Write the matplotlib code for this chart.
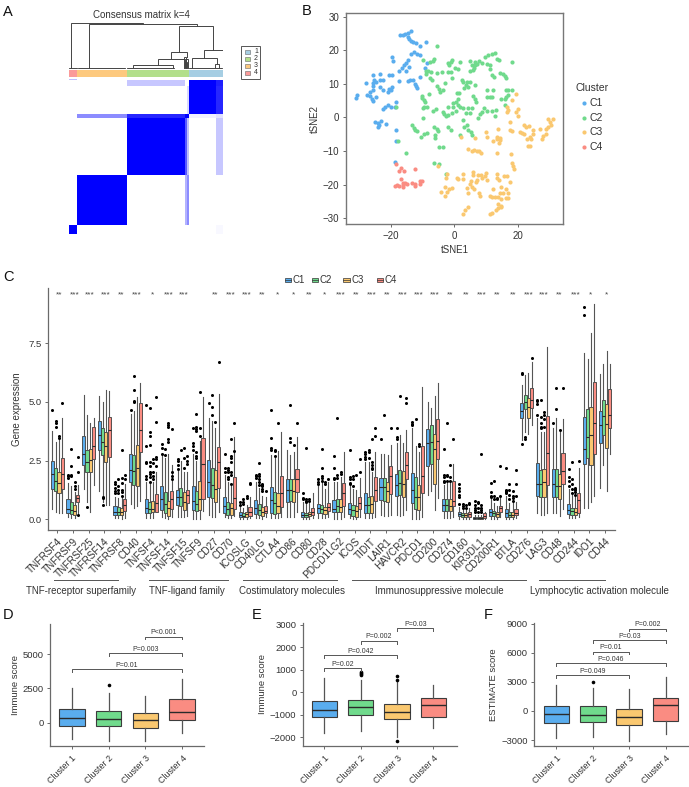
import numpy as np
import matplotlib
matplotlib.use('Agg')
import matplotlib.pyplot as plt
from matplotlib.patches import Rectangle
from matplotlib.colors import LinearSegmentedColormap

plt.rcParams['font.family'] = ['Liberation Sans', 'DejaVu Sans']
plt.rcParams['axes.unicode_minus'] = True

W, H = 689, 787
TXT = '#333333'
AX = '#6a6a6a'
COL = ['#5AADEE', '#70DA8C', '#FAC870', '#FA8C82']

# ---------- Panel A data
consensus_title = 'Consensus matrix k=4'
col_sizes = [25, 150, 175, 4, 8, 80, 20]
row_sizes = [5, 18, 82, 13, 172, 150, 25]
consensus = [
    [0.25, 0.00, 0.00, 0.00, 0.00, 0.00, 0.00],
    [0.00, 0.00, 0.22, 0.00, 0.00, 1.00, 0.88],
    [0.00, 0.00, 0.00, 0.00, 0.15, 1.00, 0.85],
    [0.00, 0.45, 0.85, 1.00, 1.00, 0.06, 0.12],
    [0.00, 0.00, 1.00, 0.65, 0.25, 0.00, 0.22],
    [0.00, 1.00, 0.00, 0.30, 0.45, 0.00, 0.00],
    [1.00, 0.00, 0.00, 0.00, 0.00, 0.00, 0.03],
]
anno_sizes = [25, 150, 187, 100]
anno_colors = ['#FB9A99', '#FDC97E', '#B2DF8A', '#A6CEE3']
anno_legend = ['1', '2', '3', '4']
anno_legend_colors = ['#A6CEE3', '#B2DF8A', '#FDC97E', '#FB9A99']
# x_left, x_right, height, left end, right end
dendro = [
    (8, 224, 135, 2, 132), (62, 384, 132, 3, 127), (331, 434, 127, 50, 57),
    (308, 354, 50, 30, 35), (407, 462, 57, 32, 3), (269, 350, 30, 12, 5),
    (194, 314, 12, 6, 3), (371, 444, 32, 3, 15), (438, 452, 15, 2, 2),
    (345, 352, 35, 4, 4), (352, 358, 30, 3, 3), (348, 356, 22, 2, 2),
    (0, 25, 3, 0, 0), (28, 170, 3, 0, 0), (175, 315, 4, 0, 0), (362, 460, 2, 0, 0),
]

# ---------- Panel B data
c1_x = [-17.2,-16.3,-15.6,-14.8,-13.7,-14.8,-14.2,-13.8,-13.2,-12.1,-11,-8.9,-12.7,-13.7,-11.9,-11,-19.7,-19.5,-14.8,-15.4,-15.8,-16.6,-17.4,-14.5,-15.4,-9.3,-8.6,-17.6,-14.7,-14,-13.2,-12.6,-12.1,-11.9,-10.8,-25.8,-23.5,-20.6,-19.8,-28.1,-25.3,-24.7,-23.6,-22.7,-25.8,-25.6,-23.5,-22.7,-21.1,-20.6,-19.7,-20.1,-26.6,-25.8,-27.7,-26.8,-24.7,-26.1,-25.6,-31.1,-30.8,-18.6,-22.6,-22.1,-21.1,-20,-18.9,-25.1,-24.3,-23.1,-23.7,-24.3,-21.6,-18.4,-18.4,-18.7]
c1_y = [24.5,24.4,24.7,25,25.8,24,23.5,22.8,22.5,22.2,21.3,22.6,19.5,19,19,18.5,17.9,16.7,17,16.3,15.5,14.6,13.8,14.9,13.9,14.7,16.3,11,10.8,11.3,11.1,10.1,9.3,8.8,11.9,12.7,12.9,12.7,12.6,10.3,11.3,10.6,11.1,11.1,9.5,10.3,9.1,8.1,7.5,8.6,9.1,8.3,7.6,8.3,6.6,6.3,6,5.4,4.9,5.7,6.8,4.6,2.4,3,3.7,3.2,3.1,-1.4,-1.5,-1,-2.1,-2.9,-1.8,-3.6,-7.1,-13.2]
c2_x = [-5.6,-10,-6.8,-6.4,-7.6,-1.9,-1.2,-.6,-1.8,1.9,5.1,7.9,6.5,5.5,6.5,7.2,6.2,4.9,5.8,8.9,9.7,10.7,11.8,12.9,13.4,14.2,18.1,10.2,11.3,11.3,11.9,12.5,14.6,15.5,16.1,16.3,-8.9,-8.2,-7.4,-8.9,-7.6,-7.2,-5.6,-4,-1.9,-1.2,.2,1.1,-.7,2.3,2.8,3.9,4.9,3.6,4.4,6.7,3.1,-5.6,-4.8,-4.4,-3.5,-2.9,.7,1.6,10.2,12.1,-10.3,-10.3,-9.5,-9.3,-7.9,6,6.5,6.8,10.2,11.3,11.9,16.3,17,18.1,17,16.5,14.9,16,16,-9.8,-8.7,-9.5,-6.8,-5.9,-1.9,-.3,-.3,.4,1.3,1.3,1.8,2.8,4.2,5.5,-3.5,-3.3,-2.6,-1.9,-.8,.5,3.7,4.9,7.4,8.1,8.9,9.5,10.4,12,13.2,12.8,-10,2.6,3.9,3.2,4.4,5.4,5.5,1.8,-13.5,-12.9,-12.4,-11.9,-10.6,-9.6,-8.7,-6.3,-5.6,-5.1,-6.1,-6.1,-1.9,-1.2,-4.7,-3.7,-17.7,-15.4,-6.3,-4.7,-2.6,-18.4]
c2_y = [21.2,17.1,16.9,17.4,16.5,16.1,16.5,17.1,15.5,16.4,16.9,16.9,16.5,15.6,15.6,16,14.6,13.9,14.2,16.1,18.1,18.5,18.8,19.1,17.5,17,16.5,15.9,15.5,14.3,12.6,12.1,13.3,12.9,12.3,11.7,13.7,13.9,13.6,12.9,11.6,11.3,13.3,13.6,13.6,13.5,14.6,14.3,11.7,11.3,10.6,10.6,10.6,9.7,9.1,9.8,8.9,9.3,8.6,7.6,8.1,10.3,7.4,7.3,8.1,8.3,6.4,5.7,5.2,4.6,6.9,6.3,5.5,4.6,6.2,6.1,6.1,8.3,8.1,8.3,6.6,6,5.6,5.5,3.7,2.7,3.2,3,2,2.4,3.2,3.2,4.2,4.7,5.4,3.7,3,2.7,2.9,2.9,1.7,1,.4,.7,1.2,1.9,1.2,1.2,-.2,1,1.7,2.9,2,1.9,2.2,.5,-.3,-.8,-2.3,-2.8,-3.6,-4.3,-5.3,-5.3,-2.3,-3,-3.6,-4.1,-5.9,-5,-4.5,-2.9,-3.3,-4,-5.3,-6,-2.8,-3.6,-8.8,-8.8,-7.1,-10.6,-13.5,-13.9,-16.9,3]
c3_x = [19.4,18.1,16.7,17,16.7,20.2,19.5,20.2,17.6,17.6,18.4,13.9,9.9,10.2,6.5,2.1,13.4,12.2,13.4,14.6,14.2,14.6,20.7,21.5,22.2,22.6,23.5,22.1,24.9,24.9,24.1,23,24.3,23.4,24.1,27.1,29,29.5,29.7,30.2,31.2,30.7,29,28.2,27.6,4.2,5.5,6.2,7.1,7.9,8.5,13.4,17.9,18.4,18.6,18.8,-5.3,-2.2,-2.6,.7,2.6,2.6,1.3,-2.9,-4.3,-.8,-1.6,-2.2,-2.8,5.8,6,7.6,8.6,10,9.7,10.4,8.9,6.8,7.3,5.3,4.9,5.5,3.9,4.4,6.3,7.8,8.2,13.4,13.6,12.2,12,11.3,13,13.9,14.4,15.3,14.7,16.5,17,17,16.3,14.9,15.8,16.7,17.6,14.2,4.4,3.4,2.6,11.3,11.9,13.2,13.9,14.7,13.9,14.9]
c3_y = [7.1,5.2,3.2,2.2,1.6,2.4,1.7,.4,-1.3,-3.6,-4.1,-3.3,-4.3,-5.9,-6,-5.8,-5.8,-6.9,-6.5,-6.7,-7.7,-6,-4.3,-4.6,-2.3,-2.8,-2.6,-4.8,-3.8,-4.8,-5.8,-6.4,-6.3,-8.5,-8.5,-3.3,-3.3,-2.8,-.6,-1.3,-.6,-2.3,-5,-5.6,-6.3,-9.5,-9.9,-9.7,-9.9,-9.9,-10.5,-10.5,-11,-13.5,-14.4,-15.4,-14.5,-16.7,-17.9,-17.9,-16.9,-18.2,-18.2,-20.6,-22.1,-20.9,-21.4,-22.1,-23.3,-16.2,-17.2,-17,-17.2,-16.5,-17.5,-18.7,-17.9,-19.1,-18.5,-18.9,-19.9,-20.6,-20.9,-22.6,-21.4,-22.6,-23.3,-16.9,-18,-21.4,-23.6,-23.4,-23.8,-23.6,-22.6,-22.4,-20.6,-21.4,-22.4,-23.9,-24.1,-24.3,-17.4,-17.4,-19.1,-18.7,-26.6,-27.4,-28.6,-28.8,-28.4,-27.4,-26.8,-26.3,-25.6,-26.6]
c4_x = [-18.6,-16.9,-17.4,-16,-12.4,-16.9,-18.7,-18,-17.4,-16.3,-16.1,-15.6,-15.1,-16.1,-13.4,-12.6,-12.4,-11,-10.8,-10.1]
c4_y = [-13.7,-15,-15.8,-15.8,-15.2,-18.4,-20.3,-20.2,-20.4,-19.4,-20.1,-19.6,-19.9,-20.6,-19.6,-20.4,-19.8,-19.8,-18.9,-18.9]
clusters = ['C1', 'C2', 'C3', 'C4']

# ---------- Panel C data
genes = ['TNFRSF4','TNFRSF9','TNFRSF25','TNFRSF14','TNFRSF8','CD40','TNFSF4','TNFSF14','TNFSF15','TNFSF9','CD27','CD70','ICOSLG','CD40LG','CTLA4','CD86','CD80','CD28','PDCD1LG2','ICOS','TIDIT','LAIR1','HAVCR2','PDCD1','CD200','CD274','CD160','KIR3DL1','CD200R1','BTLA','CD276','LAG3','CD48','CD244','IDO1','CD44']
stars = ['**','***','***','***','**','***','*','***','***','','**','***','***','**','*','*','**','*','***','**','***','**','***','***','***','**','**','***','**','**','***','***','**','***','*','*']
# each row: low whisker, q1, median, q3, high whisker
box_c1 = [(.45,1.28,1.92,2.5,3.76),(.08,.27,.42,.85,1.55),(1.3,2.3,2.8,3.56,5.3),(1.2,2.93,3.6,4.2,5.27),(.05,.2,.33,.55,.95),(.65,1.6,2.12,2.8,4.5),(.05,.28,.5,.85,1.6),(.08,.38,.85,1.4,2.75),(.08,.62,.95,1.25,2.1),(.03,.38,.8,1.4,2.8),(.2,.95,1.58,2.52,4.3),(.08,.25,.55,.97,1.9),(.03,.08,.18,.3,.54),(.05,.23,.47,.82,1.6),(.05,.26,.82,1.36,2.75),(.1,.75,1.25,1.7,2.95),(.03,.11,.18,.3,.75),(.05,.26,.47,.64,1.46),(.03,.3,.44,.82,1.6),(.05,.23,.43,.68,1.4),(.05,.28,.6,1.14,2.45),(.2,.82,1.36,1.75,2.8),(.2,1.0,1.46,1.95,3.24),(0,.68,1.25,1.96,3.88),(1.04,2.29,3.24,3.85,5.0),(.05,.37,.6,.85,1.46),(.03,.14,.21,.3,.54),(.01,.03,.05,.08,.2),(.03,.16,.3,.43,.9),(.03,.11,.26,.44,1.0),(3.38,4.3,4.63,4.97,5.72),(.28,.98,1.52,2.38,4.3),(.28,.97,1.5,2.16,3.88),(.05,.24,.4,.64,1.3),(.47,2.34,3.0,4.35,7.07),(1.35,3.27,4.02,4.62,6.18)]
box_c2 = [(.33,1.2,1.63,2.17,3.3),(.05,.22,.38,.75,1.4),(.75,2.03,2.43,2.95,4.45),(.75,2.75,3.3,3.88,5.0),(.05,.18,.33,.53,.9),(.5,1.45,2.05,2.75,4.6),(.05,.28,.42,.72,1.5),(.05,.28,.65,1.15,2.6),(.1,.55,.95,1.35,2.5),(.03,.35,.65,1.2,2.5),(.08,.9,1.45,2.2,4.2),(.05,.2,.45,.75,1.6),(.03,.08,.16,.28,.5),(.05,.18,.4,.64,1.35),(.05,.21,.68,1.18,2.6),(.1,.78,1.25,1.7,2.75),(.03,.11,.18,.28,.65),(.05,.26,.44,.6,1.6),(.03,.3,.58,.85,1.6),(.03,.16,.4,.6,1.3),(.05,.28,.6,.97,2.45),(.15,.78,1.36,1.75,2.77),(.15,1.04,1.53,2.1,3.6),(0,.43,.94,1.82,3.1),(1.2,2.36,3.31,4.0,4.76),(.05,.35,.6,.85,1.6),(.03,.11,.18,.26,.4),(.01,.03,.05,.08,.2),(.03,.14,.26,.37,.7),(.03,.11,.18,.33,.7),(3.73,4.7,5.0,5.3,6.15),(.18,.97,1.52,2.09,3.7),(.25,.94,1.43,2.13,4.3),(.05,.18,.37,.5,1.04),(.5,2.6,3.5,4.69,6.83),(2.3,3.6,4.39,5.06,6.63)]
box_c3 = [(.25,1.13,1.53,2.03,3.4),(.05,.18,.35,.6,1.15),(.33,2.0,2.53,2.98,4.1),(.6,2.43,3.1,3.7,5.5),(.03,.17,.3,.5,.95),(.55,1.4,2.2,3.15,5.2),(.05,.3,.45,.78,1.6),(.03,.15,.47,.78,2.8),(.08,.4,.75,1.15,2.0),(.03,.4,.85,1.65,3.35),(.08,.75,1.3,2.1,3.9),(.05,.2,.47,.68,1.4),(.03,.11,.21,.33,.6),(.03,.14,.33,.54,1.0),(.05,.28,.58,1.1,2.9),(.1,.75,1.2,1.7,2.88),(.03,.14,.24,.33,.7),(.05,.21,.4,.54,1.3),(.03,.33,.54,.85,1.8),(.03,.11,.35,.58,1.25),(.05,.26,.64,1.0,2.03),(.15,.75,1.2,1.6,2.75),(.2,.97,1.5,2.06,3.24),(0,.4,.94,1.46,2.88),(.4,1.49,2.98,3.62,5.23),(.05,.34,.58,.85,1.6),(.03,.1,.17,.26,.4),(.01,.03,.05,.08,.18),(.03,.11,.21,.33,.55),(.03,.1,.18,.33,.7),(3.63,4.3,4.8,5.15,6.25),(.18,.97,1.58,2.13,3.73),(.14,.85,1.43,1.95,3.73),(.05,.17,.3,.47,.97),(.75,2.3,3.58,4.77,7.95),(1.2,3.03,4.05,4.9,7.15)]
box_c4 = [(.25,1.3,1.93,2.6,4.3),(.2,.72,.9,1.05,1.45),(1.45,2.55,3.1,3.93,4.3),(.6,2.65,3.8,4.35,5.48),(.05,.35,.6,.85,1.5),(.8,2.85,3.8,4.95,5.8),(.33,.33,.68,1.08,2.0),(.1,.45,.85,1.22,2.3),(.12,.7,1.05,1.25,2.0),(.35,.85,2.35,3.45,5.2),(.3,1.32,2.42,3.07,5.35),(.15,.43,.9,1.8,3.5),(.05,.16,.33,.54,.97),(.08,.26,.35,.57,.95),(.1,.54,1.1,1.86,3.73),(.3,1.15,1.72,2.13,3.5),(.05,.18,.33,.5,1.1),(.1,.37,.54,.71,1.6),(.1,.58,1.1,1.53,2.88),(.1,.43,.68,.97,1.75),(.1,.8,1.24,1.82,2.88),(.2,1.07,1.85,2.26,3.17),(.4,1.7,2.32,2.87,3.8),(.1,1.1,1.85,3.12,5.62),(.9,2.57,3.34,4.27,5.82),(.1,.58,.78,1.63,2.34),(.03,.1,.21,.3,.5),(.01,.07,.14,.26,.3),(.1,.3,.47,.58,1.05),(.05,.17,.28,.45,.75),(4.0,4.76,5.08,5.58,6.7),(.28,1.46,2.81,4.42,7.33),(.42,1.49,2.07,2.84,4.27),(.1,.27,.81,1.1,2.2),(1.0,2.77,4.12,5.85,9.16),(2.8,3.9,4.43,5.55,6.62)]
out_c1 = [[4.65],[1.75,1.85,1.9],[],[],[1.1,1.2,1.35,1.5,1.6],[4.65],[1.7,1.85,2.4,2.45,3.1,4.85],[2.8,3.05,3.2],[2.15,2.3,2.5,2.55],[2.95,3.1,3.25,3.9],[4.95],[2.0,2.2,2.8],[.6,.75],[1.75,1.85,1.9],[2.95,3.05,3.45,4.65],[],[.85,.9,1.1],[1.5,1.6,1.7],[1.7,1.75,2.2,2.7],[1.5,1.55,1.7,1.8,2.93],[2.55,2.65,2.8,2.85],[3.4],[3.4,3.5,3.88],[4.0,4.05,4.15],[],[1.6,1.65,1.8,1.9,3.0],[.65,.95,1.05,1.2,1.35,1.5],[.3,.4,.5,.6,.8],[.95,1.0,1.15,1.55],[1.1,1.15,1.2,1.25,2.2],[3.2,6.2,6.25],[4.45,4.9,5.05,5.1],[4.1],[1.4,1.65,1.8,2.15],[8.69,9.06],[]]
out_c2 = [[3.95,4.1,4.2],[1.85,1.9,2.25,3.0],[.53],[.6,.9,.95],[1.1,1.25,1.4,1.7],[5.0,5.05,5.5,6.1],[1.6,1.8,1.95,2.0,2.25,2.45,3.15,3.55,3.7,4.75],[2.75,3.0],[2.95],[2.6,2.7,2.85,3.75,3.85,3.95,4.5],[4.45,4.78,5.3],[1.7,1.8,2.0,2.1,2.2],[.65,.75,.85],[1.45,1.6,1.7,1.85,1.95,2.4],[2.7,2.9,2.95],[3.45,3.3,4.87],[.75,.8,.85,3.03],[1.65,1.75,1.85,2.2,3.0],[1.75,1.9,4.3],[1.4,1.7,1.85],[2.6,2.85,2.95],[4.45],[5.25],[4.25],[],[1.65,1.85,1.9,4.1],[.5,.55,.65],[.3,.5,.7,.75],[.85,1.0,1.65],[.85,1.05,1.25,1.5],[3.4,3.5],[3.9,3.95,4.1,4.35,5.1],[4.7,5.6],[1.1,1.3,1.5,1.7,2.45],[],[]]
out_c3 = [[3.45,3.55],[1.3,1.4,1.6],[],[],[1.0,1.15,1.25,1.55,1.75,2.95],[],[1.7,1.85,2.0,2.4,2.55],[3.3,3.4,3.95,4.0,4.1],[2.2,2.6,3.05],[3.55,3.9,5.4],[4.15],[1.5,1.9,2.0,2.45,2.6,2.7,3.4],[.9,1.0],[1.2,1.3,1.4,1.45,1.5],[4.09],[3.15],[.8,.85],[1.5,1.6],[1.95,2.0],[1.9],[2.15,2.2,2.3,2.45,3.4],[],[],[3.1,3.2],[],[1.65,1.8,2.3],[.5,.6],[.3,.4,.5,.6,2.77],[.85,.9],[.8,.9,1.0,1.2],[],[3.95,4.25,4.45,4.55],[3.8],[1.05,1.15,1.25,1.3,1.35],[],[]]
out_c4 = [[4.95],[.2,2.0,2.65],[],[],[1.7,1.9],[],[2.25,2.55,2.65,4.15,5.2],[1.7,1.85,2.0,3.85],[2.35,2.5,2.7],[],[6.7],[2.9,4.1],[1.5,1.55],[1.2],[],[4.1],[],[1.7],[],[2.0,2.55],[3.55,3.9],[3.9],[4.95,5.15],[],[],[3.4],[.65,.7],[],[1.0,2.25],[1.0,1.5,2.1],[6.85],[],[5.6],[2.5],[],[]]
group_names = ['TNF-receptor superfamily', 'TNF-ligand family', 'Costimulatory molecules', 'Immunosuppressive molecule', 'Lymphocytic activation molecule']

# ---------- Panels D, E, F data
cluster_names = ['Cluster 1', 'Cluster 2', 'Cluster 3', 'Cluster 4']
d_box = [(-1190,-220,315,970,2500),(-1335,-240,240,850,2135),(-1335,-390,170,680,1940),(-780,195,750,1700,3180)]
d_out = [[],[2770],[],[]]
d_br = [(1,4,3880,'P=0.01'),(2,4,5050,'P=0.003'),(3,4,6260,'P<0.001')]
e_box = [(-1830,-1116,-790,-400,625),(-1726,-1027,-670,-357,550),(-1980,-1190,-863,-536,476),(-1592,-1116,-565,-253,312)]
e_out = [[],[750,800,850,900],[-2170,550,730],[]]
e_br = [(1,2,1070,'P=0.02'),(1,3,1637,'P=0.042'),(2,3,2277,'P=0.002'),(3,4,2842,'P=0.03')]
f_box = [(-2760,-1276,-345,483,2690),(-2655,-1138,-448,483,2414),(-3070,-1483,-655,172,2276),(-2345,-1034,586,1310,3483)]
f_out = [[],[2965],[],[]]
f_br = [(1,3,3690,'P=0.049'),(1,4,4930,'P=0.046'),(2,3,6138,'P=0.01'),(2,4,7310,'P=0.03'),(3,4,8517,'P=0.002')]

fig = plt.figure(figsize=(W/100, H/100), dpi=100, facecolor='white')

def axpx(l, t, r, b):
    return fig.add_axes([l/W, 1-b/H, (r-l)/W, (b-t)/H])

ov = axpx(0, 0, W, H)
ov.set_xlim(0, W); ov.set_ylim(H, 0); ov.axis('off'); ov.set_zorder(5)

for s, x, y in [('A',3,12),('B',302,11),('C',3,277),('D',3,615),('E',252,615),('F',484,615)]:
    ov.text(x, y, s, fontsize=10.5, color='#111111', ha='left', va='center')

# ---------- A
cm = LinearSegmentedColormap.from_list('cons', ['white', '#0000FF'])
a = axpx(68.7, 78.7, 222.7, 233.7)
xe = np.concatenate([[0], np.cumsum(col_sizes)])
ye = np.concatenate([[0], np.cumsum(row_sizes)])
a.pcolormesh(xe, ye, np.array(consensus), cmap=cm, vmin=0, vmax=1)
a.set_xlim(0, xe[-1]); a.set_ylim(ye[-1], 0); a.axis('off')

an = axpx(68.7, 70, 222.7, 77)
left = 0
for size, c in zip(anno_sizes, anno_colors):
    an.barh(0, size, left=left, height=1, color=c)
    left += size
an.set_xlim(0, left); an.set_ylim(-.5, .5); an.axis('off')

dn = axpx(68.7, 22, 222.7, 69)
for x1, x2, h, e1, e2 in dendro:
    dn.plot([x1, x1, x2, x2], [e1, h, h, e2], color='#444444', lw=0.7, solid_joinstyle='miter')
dn.set_xlim(0, left); dn.set_ylim(0, 138); dn.axis('off')

ov.text(141.7, 15, consensus_title, fontsize=7, color=TXT, ha='center', va='center')
ov.add_patch(Rectangle((240.7, 45.7), 19.5, 33.6, fc='white', ec='#555555', lw=0.7))
for i, (lab, c) in enumerate(zip(anno_legend, anno_legend_colors)):
    yy = 51.7 + 7*i
    ov.add_patch(Rectangle((245, yy-2), 5, 4, fc=c, ec='#666666', lw=0.4))
    ov.text(254, yy, lab, fontsize=5, color=TXT, ha='left', va='center')

# ---------- B
b = axpx(346, 13.3, 563.3, 224)
for xs, ys, c, lab in zip([c1_x, c2_x, c3_x, c4_x], [c1_y, c2_y, c3_y, c4_y], COL, clusters):
    b.scatter(xs, ys, s=9, color=c, linewidths=0)
b.set_xlim(-34.3, 34.5); b.set_ylim(-31.7, 31)
b.set_xticks([-20, 0, 20]); b.set_yticks([-30, -20, -10, 0, 10, 20, 30])
b.tick_params(labelsize=7, length=2.5, width=0.7, color=AX, labelcolor=TXT, pad=2.5)
for s in b.spines.values():
    s.set_color('#777777'); s.set_linewidth(1.0)
b.set_xlabel('tSNE1', fontsize=7, color=TXT, labelpad=3)
b.set_ylabel('tSNE2', fontsize=7, color=TXT, labelpad=2)
ov.text(576, 88, 'Cluster', fontsize=7.5, color=TXT, ha='left', va='center')
for i, (lab, c) in enumerate(zip(clusters, COL)):
    yy = 103.3 + 14.5*i
    ov.scatter([584], [yy], s=9, color=c, linewidths=0)
    ov.text(589, yy, lab, fontsize=7.5, color=TXT, ha='left', va='center')

def mkstats(rows, outs):
    return [dict(whislo=r[0], q1=r[1], med=r[2], q3=r[3], whishi=r[4], fliers=o)
            for r, o in zip(rows, outs)]

def draw(ax, rows, outs, pos, w, c, lw=0.6, ms=2.2, wc='#555555', wl=0.8, ec='#3c3c3c'):
    ax.bxp(mkstats(rows, outs), positions=pos, widths=w, patch_artist=True, showcaps=False,
           boxprops=dict(facecolor=c, edgecolor=ec, linewidth=lw),
           medianprops=dict(color='#2a2a2a', linewidth=lw+0.2),
           whiskerprops=dict(color=wc, linewidth=wl),
           flierprops=dict(marker='o', markersize=ms, markerfacecolor='black',
                           markeredgecolor='none'),
           manage_ticks=False)

# ---------- C
c = axpx(48.3, 288, 614.7, 530)
xpos = np.arange(1, len(genes)+1)
for off, rows, outs, col in zip([-.315, -.105, .105, .315],
                                [box_c1, box_c2, box_c3, box_c4],
                                [out_c1, out_c2, out_c3, out_c4], COL):
    draw(c, rows, outs, xpos+off, 0.2, col)
c.set_xlim(0.425, 36.62); c.set_ylim(-0.456, 9.85)
c.set_xticks(xpos); c.set_xticklabels(genes, rotation=45, ha='right', rotation_mode='anchor')
c.set_yticks([0, 2.5, 5, 7.5]); c.set_yticklabels(['0.0', '2.5', '5.0', '7.5'])
c.tick_params(axis='x', labelsize=7.2, length=2.5, width=0.7, color=AX, labelcolor=TXT, pad=2)
c.tick_params(axis='y', labelsize=6.8, length=2.5, width=0.7, color=AX, labelcolor=TXT, pad=2)
c.set_ylabel('Gene expression', fontsize=7, color=TXT, labelpad=5)
for sp in ['top', 'right']:
    c.spines[sp].set_visible(False)
for sp in ['left', 'bottom']:
    c.spines[sp].set_color(AX); c.spines[sp].set_linewidth(0.9)
for p, s in zip(xpos, stars):
    if s:
        c.text(p+.1, 9.55, s, fontsize=6, color='#444444', ha='center', va='center')

for x0, lab, x1 in zip([285, 312, 343, 377], clusters, [291, 318, 350, 383]):
    ov.add_patch(Rectangle((x0, 278), x1-x0, 4, fc=COL[clusters.index(lab)], ec='#333333', lw=0.5))
    ov.plot([x0, x1], [280, 280], color='#333333', lw=0.5)
    ov.text(x1+1.5, 280, lab, fontsize=7, color=TXT, ha='left', va='center')

for name, l, r, cx in zip(group_names, [54,149,243,352,539], [117.7,228,337,526,605],
                          [81.3,186.5,292.3,439.5,599]):
    ov.plot([l, r], [580, 580], color='#555555', lw=0.7)
    ov.text(cx, 591, name, fontsize=7, color=TXT, ha='center', va='center')
ov.set_xlim(0, W); ov.set_ylim(H, 0)

# ---------- D E F
def panel(box, xl, yl, rows, outs, brs, yticks, ylabel, tip):
    ax = axpx(*box)
    for i, col in enumerate(COL):
        draw(ax, [rows[i]], [outs[i]], [i+1], 0.7, col, lw=0.8, ms=2.6, wc='#555555', wl=0.9)
    ax.set_xlim(*xl); ax.set_ylim(*yl)
    ax.set_xticks([1, 2, 3, 4])
    ax.set_xticklabels(cluster_names, rotation=45, ha='right', rotation_mode='anchor')
    ax.set_yticks(yticks)
    ax.tick_params(axis='x', labelsize=6.4, length=2.5, width=0.7, color=AX, labelcolor=TXT, pad=3)
    ax.tick_params(axis='y', labelsize=6.8, length=2.5, width=0.7, color=AX, labelcolor=TXT, pad=2)
    ax.set_ylabel(ylabel, fontsize=6.8, color=TXT, labelpad=2)
    for sp in ['top', 'right']:
        ax.spines[sp].set_visible(False)
    for sp in ['left', 'bottom']:
        ax.spines[sp].set_color(AX); ax.spines[sp].set_linewidth(0.9)
    for x1, x2, y, t in brs:
        ax.plot([x1, x1, x2, x2], [y-tip, y, y, y-tip], color='#555555', lw=0.7, clip_on=False)
        ax.text((x1+x2)/2, y+tip*0.2, t, fontsize=5, color=TXT, ha='center', va='bottom', clip_on=False)
    return ax

panel((50, 624, 204, 746), (.41, 4.59), (-1698, 7194), d_box, d_out, d_br, [0, 2500, 5000], 'Immune score', 190)
panel((302.7, 623, 456.7, 746), (.404, 4.64), (-2396, 3080), e_box, e_out, e_br, [-2000, -1000, 0, 1000, 2000, 3000], 'Immune score', 130)
panel((534, 623.3, 689, 746), (.387, 4.64), (-3620, 9070), f_box, f_out, f_br, [-3000, 0, 3000, 6000, 9000], 'ESTIMATE score', 260)

fig.savefig('out.png', dpi=100, facecolor='white')
